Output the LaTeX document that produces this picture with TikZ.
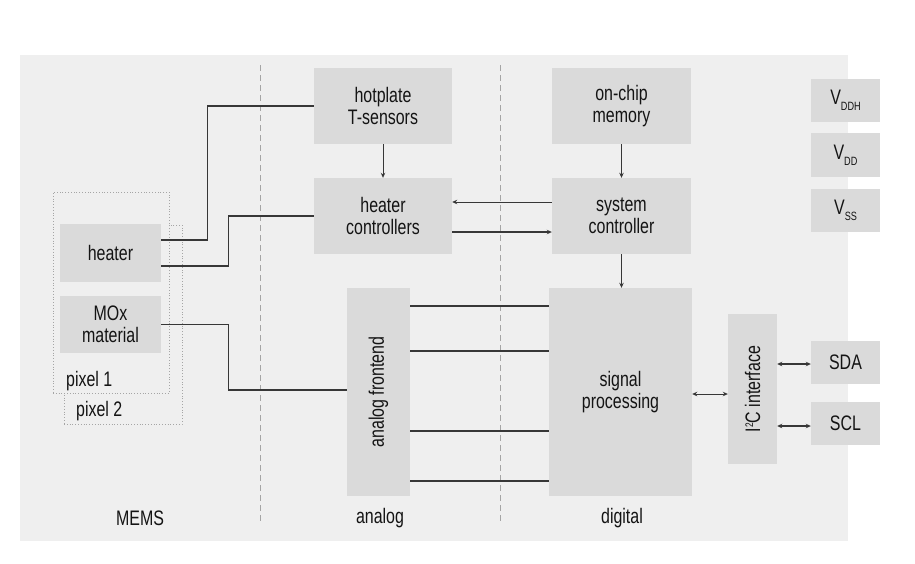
\documentclass[tikz,border=0pt]{standalone}
\usepackage{fontspec}
\setmainfont{Liberation Sans}[FakeStretch=0.76]
\usetikzlibrary{arrows.meta}
\definecolor{panel}{RGB}{239,239,239}
\definecolor{boxc}{RGB}{218,218,218}
\definecolor{linec}{RGB}{55,55,55}
\definecolor{dashc}{RGB}{165,165,165}
\definecolor{dotc}{RGB}{165,165,165}
\definecolor{txt}{RGB}{20,20,20}
\newcommand\vsub[1]{\raisebox{-6pt}{\fontsize{12}{12}\selectfont #1}}
\begin{document}
\begin{tikzpicture}[x=1pt,y=-1pt,
  blk/.style={fill=boxc, draw=none, inner sep=0pt, align=center, text=txt, font=\fontsize{21}{22}\selectfont},
  conn/.style={draw=linec, line width=1.1pt},
  tip/.tip={Stealth[length=5pt,width=4.5pt]},
  arr/.style={conn, -tip},
  darr/.style={conn, tip-tip},
  divider/.style={draw=dashc, line width=1pt, dash pattern=on 6pt off 4pt},
  pix/.style={draw=dotc, dotted, fill=panel, line width=0.8pt, inner sep=0pt},
  lbl/.style={text=txt, font=\fontsize{21}{22}\selectfont, inner sep=0pt}]
\useasboundingbox (0,0) rectangle (915,563);
\fill[panel] (20,55) rectangle (848,541);

% dividers
\draw[divider] (260,65) -- (260,524);
\draw[divider] (500,65) -- (500,524);

% pixels
\node[pix, minimum width=118pt, minimum height=199pt] (pix2) at (123,324.5) {};
\node[pix, minimum width=116pt, minimum height=201pt] (pix1) at (111,292.5) {};
\node[lbl, anchor=base west] (p1) at (66,386) {pixel 1};
\node[lbl, anchor=base west] (p2) at (76,416) {pixel 2};

% blocks
\node[blk, minimum width=101pt, minimum height=58pt] (heater) at (110.5,253) {heater};
\node[blk, minimum width=101pt, minimum height=57pt] (mox) at (110.5,324.5) {MOx\\material};
\node[blk, minimum width=138pt, minimum height=76pt] (hot) at (383,106) {hotplate\\T-sensors};
\node[blk, minimum width=138pt, minimum height=76pt] (hc) at (383,216) {heater\\controllers};
\node[blk, minimum width=139pt, minimum height=76pt] (mem) at (621.5,106) {on-chip\\memory};
\node[blk, minimum width=139pt, minimum height=76pt] (sc) at (621.5,216) {system\\controller};
\node[blk, minimum width=63pt, minimum height=208pt] (af) at (378.5,392) {};
\node[lbl, rotate=90] (aft) at (af.center) {analog frontend};
\node[blk, minimum width=143pt, minimum height=208pt] (sp) at (620.5,392) {signal\\processing};
\node[blk, minimum width=49pt, minimum height=150pt] (i2c) at (752.5,389) {};
\node[lbl, rotate=90] (i2ct) at (i2c.center) {I\raisebox{7pt}{\fontsize{11}{11}\selectfont 2}C interface};
\node[blk, minimum width=69pt, minimum height=43pt] (sda) at (845.5,362.5) {SDA};
\node[blk, minimum width=69pt, minimum height=43pt] (scl) at (845.5,423.5) {SCL};
\node[blk, minimum width=69pt, minimum height=43pt] (vddh) at (845.5,100.5) {V\vsub{DDH}};
\node[blk, minimum width=69pt, minimum height=44pt] (vdd) at (845.5,155) {V\vsub{DD}};
\node[blk, minimum width=69pt, minimum height=43pt] (vss) at (845.5,210.5) {V\vsub{SS}};

% region labels
\node[lbl] (mems) at (140,518) {MEMS};
\node[lbl] (analog) at (380,518) {analog};
\node[lbl] (digital) at (622,518) {digital};

% connectors
\draw[conn] ([yshift=13pt]heater.east) -- ++(46,0) |- (hot.west);
\draw[conn] ([yshift=-13pt]heater.east) -- ++(67,0) |- (hc.west);
\draw[conn] (mox.east) -- ++(67,0) |- ([yshift=2pt]af.west);
\draw[arr, line width=0.9pt] (hot) -- (hc);
\draw[arr, line width=0.9pt] (mem) -- (sc);
\draw[arr, line width=0.8pt] ([yshift=14pt]sc.west) -- ([yshift=14pt]hc.east);
\draw[arr, line width=1.6pt] ([yshift=-16pt]hc.east) -- ([yshift=-16pt]sc.west);
\draw[arr] (sc.south) -- (sc.south |- sp.north);
\foreach \d in {86,41,-39,-89}
  \draw[conn] ([yshift=\d pt]af.east) -- ([yshift=\d pt]sp.west);
\draw[darr, line width=0.9pt] ([yshift=-2pt]sp.east) -- ([yshift=-2pt]sp.east -| i2c.west);
\draw[darr] ([yshift=-1.5pt]sda.west -| i2c.east) -- ([yshift=-1.5pt]sda.west);
\draw[darr] ([yshift=-2.5pt]scl.west -| i2c.east) -- ([yshift=-2.5pt]scl.west);
\end{tikzpicture}
\end{document}
